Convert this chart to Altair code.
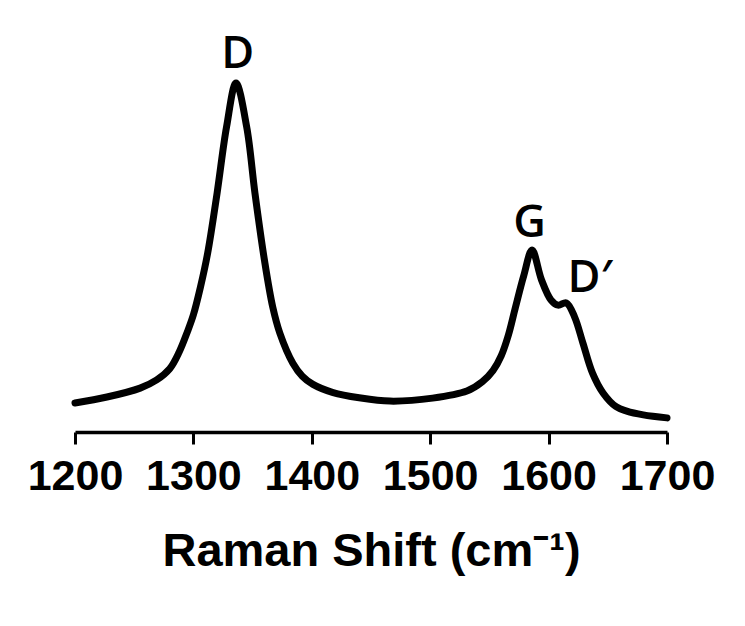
import altair as alt
import pandas as pd

# Raman spectrum (arbitrary intensity units)
wavenumber = [1200, 1227, 1255, 1269, 1280, 1288, 1295, 1300, 1306, 1312, 1320, 1328, 1336,
              1345, 1352, 1360, 1367, 1373, 1384, 1392, 1401, 1418, 1440, 1466, 1502,
              1531, 1544, 1553, 1560, 1566, 1572, 1579, 1586, 1594, 1602, 1608, 1615, 1622,
              1629, 1637, 1646, 1657, 1666, 1680, 1700]
intensity = [7.8, 9.4, 11.8, 14.0, 17.0, 21.5, 27.0, 31.5, 39.0, 48.0, 64.2, 82.0, 93.8,
             82.0, 64.2, 46.2, 33.6, 26.6, 18.5, 15.0, 12.8, 10.6, 9.2, 8.3, 9.1,
             11.0, 13.5, 16.5, 20.5, 26.0, 33.5, 42.0, 48.9, 40.9, 35.5, 34.1, 34.7, 30.9,
             23.9, 15.9, 10.5, 6.8, 5.6, 4.6, 3.8]

# Peak annotations
peak_names = ["D", "G", "D\u2032"]
peak_x = [1337.5, 1584, 1616]
peak_y = [97.8, 52.4, 37.6]
peak_align = ["center", "center", "left"]

x_ticks = [1200, 1300, 1400, 1500, 1600, 1700]

spec = pd.DataFrame({"w": wavenumber, "i": intensity})
peaks = pd.DataFrame({"name": peak_names, "w": peak_x, "i": peak_y, "align": peak_align})

x_scale = alt.Scale(domain=[1200, 1700], nice=False, zero=False)
y_scale = alt.Scale(domain=[0, 100], nice=False, zero=True)

x_axis = alt.Axis(
    values=x_ticks, format="d", title="Raman Shift (cm\u207b\u00b9)",
    grid=False, domainColor="black", domainWidth=3.5, tickColor="black",
    tickWidth=3, tickSize=12, labelFont="Liberation Sans",
    labelFontWeight="bold", labelFontSize=43, labelColor="black",
    labelBaseline="alphabetic", labelPadding=45, labelFlush=False, labelOverlap=False,
    titleFont="Liberation Sans", titleFontWeight="bold", titleFontSize=47,
    titleColor="black", titleBaseline="alphabetic", titleX=296, titleY=133,
    titleAlign="center",
)

line = alt.Chart(spec).mark_line(
    color="black", strokeWidth=7, interpolate="catmull-rom", strokeCap="round", strokeJoin="round"
).encode(
    x=alt.X("w:Q", scale=x_scale, axis=x_axis),
    y=alt.Y("i:Q", scale=y_scale, axis=None),
)

def label(idx):
    d = peaks.iloc[[idx]]
    return alt.Chart(d).mark_text(
        font="Open Sans", fontWeight=600, fontSize=45, color="black",
        baseline="alphabetic", align=peak_align[idx],
    ).encode(
        x=alt.X("w:Q", scale=x_scale),
        y=alt.Y("i:Q", scale=y_scale),
        text="name:N",
    )

chart = alt.layer(line, label(0), label(1), label(2)).properties(
    width=592, height=372,
    autosize=alt.AutoSizeParams(type="none"),
    padding={"left": 75, "top": 60, "right": 78, "bottom": 194},
    background="white",
).configure_view(stroke=None)

chart.save("out.html", embed_options={"renderer": "svg", "actions": False})
